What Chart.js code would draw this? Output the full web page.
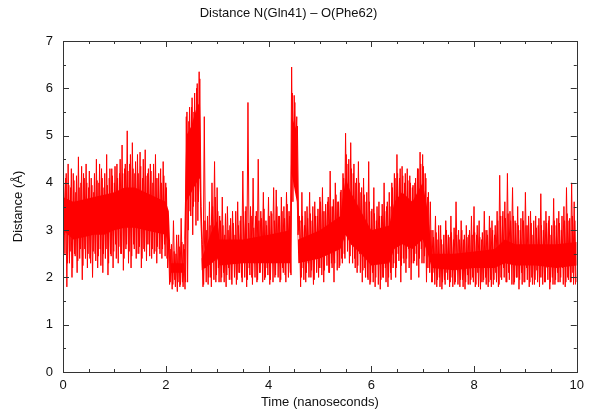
<!DOCTYPE html>
<html>
<head>
<meta charset="utf-8">
<script src="https://cdn.jsdelivr.net/npm/chart.js@4.4.1/dist/chart.umd.min.js"></script>
<style>
  html, body { margin: 0; padding: 0; background: #fff; }
</style>
</head>
<body>
<canvas id="distChart" width="590" height="419"></canvas>
<script>
// sampling step of the trajectory (ns), one high + one low sample per step
const sampleStep = 0.05;

// large excursions, t = 0 .. 9.95 ns
const distHigh = [
  5.0, 4.1, 4.4, 3.9, 4.2, 3.8, 4.55, 4.0, 4.2, 4.4,
  3.9, 4.1, 3.8, 4.5, 4.0, 4.3, 3.9, 4.6, 4.1, 4.3,
  4.0, 4.4, 4.2, 4.8, 4.3, 5.1, 4.4, 4.85, 4.2, 4.6,
  4.65, 4.1, 4.7, 4.2, 4.4, 4.0, 4.6, 4.1, 4.3, 4.45,
  4.0,
  3.0, 2.6, 3.2, 2.5, 2.9, 3.25, 2.7,
  5.4, 5.3, 5.6, 5.5, 6.0, 6.35,
  2.8, 5.4, 3.0, 3.6, 4.0, 4.45, 3.9,
  3.3, 3.7, 2.9, 3.5, 3.1, 3.4, 2.9, 3.6, 3.2, 4.25,
  3.4, 5.7, 3.5, 4.1, 3.3, 4.5, 3.4, 3.8, 3.2, 3.7,
  3.4, 3.9, 3.85, 3.3, 3.7, 3.5, 3.8, 3.4,
  6.45, 5.85, 5.4,
  3.3, 3.8, 3.1, 3.5, 3.8, 3.2, 3.6, 3.3, 3.7, 3.9,
  3.4, 3.6, 4.25, 3.5, 4.0, 3.6, 3.8,
  4.2, 5.05, 4.4, 4.85, 4.2, 4.0, 4.45, 3.8, 4.1, 3.6, 4.45,
  3.4, 3.9, 3.2, 3.6, 3.3, 4.0, 3.5, 3.8,
  4.0, 4.2, 4.6, 4.1, 4.35, 4.0, 4.3, 4.15, 3.9, 4.0,
  4.3, 4.65, 4.6, 4.2, 3.7,
  3.6, 3.0, 3.3, 2.8, 3.1, 2.7, 3.2, 2.9, 3.3, 2.8,
  3.6, 3.0, 3.2, 2.8, 3.1, 2.9, 3.3, 3.5, 2.9, 3.2,
  2.8, 3.4, 3.0, 3.3,
  3.2, 2.9, 3.4, 4.16, 3.3, 3.6, 4.2, 3.4, 3.9, 3.2,
  3.5, 3.0, 3.4, 3.8, 3.1, 3.4, 2.9, 3.3, 3.1, 3.77,
  3.0, 3.4, 3.2, 2.9, 3.67, 3.1, 3.4, 3.0, 3.5, 3.9,
  3.2, 4.0, 3.6
];
const distLow = [
  2.9, 1.8, 2.3, 2.0, 2.5, 2.1, 2.4, 1.95, 2.6, 2.2,
  2.4, 2.0, 2.5, 2.2, 2.6, 2.1, 2.4, 2.05, 2.5, 2.2,
  2.7, 2.3, 2.5, 2.15, 2.6, 2.3, 2.2, 2.7, 2.4, 2.5,
  2.2, 2.6, 2.35, 2.7, 2.4, 2.5, 2.3, 2.6, 2.4, 2.7,
  2.4,
  1.85, 1.75, 1.95, 1.7, 1.8, 1.9, 1.75,
  1.9, 3.4, 2.9, 3.6, 3.2, 3.8,
  1.8, 2.2, 1.85, 2.0, 2.4, 1.9, 2.2,
  1.9, 2.1, 1.8, 2.2, 1.95, 2.3, 1.85, 2.1, 2.0, 2.4,
  1.8, 2.2, 2.0, 2.3, 1.9, 2.1, 2.35, 1.95, 2.2, 1.85,
  2.3, 2.0, 2.4, 1.9, 2.2, 2.05, 2.4, 2.1,
  3.6, 4.6, 2.9,
  1.8, 2.2, 1.9, 2.3, 2.0, 1.85, 2.4, 2.0, 2.2, 1.9,
  2.5, 2.1, 2.3, 1.9, 2.6, 2.2, 2.4,
  2.5, 2.9, 2.3, 2.7, 2.4, 2.1, 2.5, 1.9, 2.2, 2.0, 1.85,
  2.1, 1.8, 2.3, 1.75, 2.0, 2.2, 1.8, 2.1,
  2.2, 2.0, 2.5, 1.9, 2.4, 2.1, 2.6, 1.95, 2.3, 2.5,
  2.0, 2.6, 2.3, 1.9, 2.2,
  1.9, 2.1, 1.8, 2.0, 1.75, 1.95, 2.1, 1.8, 2.0, 1.85,
  2.15, 1.8, 1.95, 1.75, 2.05, 1.85, 2.0, 1.8, 2.1, 1.75,
  1.9, 2.0, 1.8, 1.95,
  1.85, 2.1, 1.8, 2.0, 2.2, 1.9, 2.1, 2.4, 1.85, 2.0,
  1.75, 2.1, 1.9, 2.2, 1.8, 2.0, 1.85, 2.15, 1.8, 2.0,
  1.9, 2.2, 1.75, 2.0, 1.85, 2.1, 1.9, 2.2, 1.8, 2.0,
  1.9, 2.1, 1.85
];

// moderate excursions, sampled in between, t = 0.0125 .. 9.9875 ns
const distMidHigh = [
  4.0, 4.2, 3.95, 4.3, 4.05, 4.15, 3.9, 4.35, 4.1, 4.0,
  4.25, 3.95, 4.2, 4.05, 4.4, 4.1, 4.2, 3.95, 4.3, 4.15,
  4.35, 4.1, 4.5, 4.2, 4.4, 4.25, 4.6, 4.3, 4.45, 4.2,
  4.35, 4.5, 4.15, 4.3, 4.25, 4.4, 4.1, 4.2, 4.0, 4.15,
  3.9,
  2.8, 2.7, 2.55, 2.9, 2.65, 2.75, 2.6,
  5.5, 5.6, 5.8, 5.9, 6.1, 6.2,
  2.7, 3.2, 3.3, 3.1, 3.5, 3.7, 3.4,
  3.2, 3.1, 3.35, 3.0, 3.25, 3.15, 3.4, 3.1, 3.3, 3.2,
  3.5, 3.15, 3.3, 3.05, 3.4, 3.2, 3.25, 3.45, 3.1, 3.3,
  3.35, 3.2, 3.5, 3.3, 3.4, 3.25, 3.55, 3.3,
  5.9, 5.7, 5.2,
  3.2, 3.3, 3.4, 3.25, 3.35, 3.5, 3.3, 3.45, 3.6, 3.4,
  3.55, 3.7, 3.5, 3.65, 3.75, 3.6, 3.85,
  4.1, 4.6, 4.5, 4.3, 4.4, 4.1, 4.0, 3.9, 3.75, 3.8, 3.6,
  3.45, 3.35, 3.5, 3.3, 3.55, 3.4, 3.6, 3.5,
  3.9, 4.1, 4.2, 4.3, 4.15, 4.2, 4.05, 4.0, 3.95, 4.1,
  4.3, 4.4, 4.35, 4.1, 3.8,
  3.0, 2.85, 2.95, 3.1, 2.8, 2.9, 3.0, 2.85, 2.95, 3.05,
  2.9, 2.8, 3.0, 2.9, 2.85, 3.0, 2.9, 2.95, 3.1, 2.85,
  2.95, 3.0, 2.9, 3.05,
  3.0, 3.1, 3.2, 3.3, 3.4, 3.25, 3.35, 3.2, 3.3, 3.15,
  3.1, 3.25, 3.2, 3.1, 3.3, 3.15, 3.2, 3.05, 3.25, 3.1,
  3.2, 3.15, 3.3, 3.1, 3.2, 3.25, 3.15, 3.3, 3.2, 3.35,
  3.25, 3.3, 3.2
];
const distMidLow = [
  2.5, 2.3, 2.55, 2.2, 2.45, 2.35, 2.6, 2.25, 2.4, 2.5,
  2.3, 2.55, 2.35, 2.45, 2.25, 2.5, 2.6, 2.3, 2.45, 2.55,
  2.4, 2.65, 2.5, 2.4, 2.7, 2.55, 2.45, 2.6, 2.5, 2.65,
  2.4, 2.55, 2.7, 2.45, 2.6, 2.55, 2.65, 2.5, 2.6, 2.45,
  2.2,
  1.9, 1.85, 1.8, 1.9, 1.85, 1.8, 1.9,
  3.0, 3.3, 3.5, 3.1, 3.6, 3.5,
  1.85, 1.9, 2.0, 1.8, 1.95, 2.05, 1.9,
  2.0, 1.9, 2.05, 1.95, 1.85, 2.0, 1.95, 2.1, 1.9, 2.0,
  1.95, 2.05, 1.85, 2.0, 1.95, 2.1, 1.9, 2.0, 2.05, 1.95,
  1.9, 2.05, 2.0, 1.95, 2.1, 1.9, 2.0, 2.05,
  4.3, 3.8, 3.0,
  2.0, 1.95, 2.1, 2.0, 2.15, 1.95, 2.1, 2.2, 2.05, 2.15,
  2.25, 2.1, 2.2, 2.3, 2.15, 2.25, 2.3,
  2.4, 2.55, 2.45, 2.3, 2.2, 2.25, 2.1, 2.15, 2.0, 1.95, 1.9,
  1.9, 2.0, 1.85, 1.95, 2.0, 1.9, 2.0, 1.95,
  2.3, 2.2, 2.35, 2.25, 2.3, 2.4, 2.2, 2.3, 2.35, 2.25,
  2.4, 2.3, 2.45, 2.2, 2.1,
  1.9, 1.85, 1.95, 1.8, 1.9, 1.85, 1.95, 1.9, 1.8, 1.9,
  1.85, 1.95, 1.8, 1.9, 1.85, 1.95, 1.9, 1.85, 1.8, 1.9,
  1.95, 1.85, 1.9, 1.8,
  1.95, 1.9, 1.85, 1.95, 2.0, 1.9, 1.95, 1.85, 1.9, 2.0,
  1.95, 1.85, 1.9, 1.95, 1.9, 1.85, 1.95, 1.9, 2.0, 1.85,
  1.9, 1.95, 1.9, 1.85, 1.95, 1.9, 2.0, 1.85, 1.9, 1.95,
  1.9, 1.85, 1.9
];

// dense core of the fluctuation (where the trace is solid red)
const coreTime = [
  0.0, 0.2, 0.4, 0.6, 0.8, 1.0, 1.2, 1.4, 1.6, 1.8, 2.0, 2.06,
  2.1, 2.35, 2.4, 2.5, 2.6, 2.66, 2.7, 2.9, 3.0, 3.05, 3.5, 4.0,
  4.42, 4.45, 4.55, 4.58, 5.0, 5.4, 5.5, 5.6, 5.8, 6.0, 6.35, 6.45,
  6.6, 6.8, 7.0, 7.1, 7.18, 7.6, 8.0, 8.4, 8.6, 8.8, 9.2, 9.6, 10.0
];
const coreTop = [
  3.7, 3.6, 3.65, 3.7, 3.75, 3.8, 3.9, 3.9, 3.8, 3.7, 3.6, 3.4,
  2.3, 2.3, 5.0, 5.2, 5.6, 5.7, 2.4, 3.0, 3.2, 2.8, 2.8, 2.9,
  3.0, 5.4, 5.1, 2.8, 3.0, 3.3, 4.1, 3.8, 3.4, 3.0, 3.1, 3.6,
  3.8, 3.6, 4.0, 3.4, 2.5, 2.5, 2.55, 2.6, 2.8, 2.7, 2.7, 2.7, 2.75
];
const coreBottom = [
  3.0, 2.8, 2.85, 2.9, 2.9, 3.0, 3.05, 3.05, 3.0, 2.95, 2.9, 2.7,
  2.1, 2.1, 3.6, 3.8, 4.0, 4.1, 2.15, 2.3, 2.4, 2.25, 2.3, 2.3,
  2.3, 4.2, 3.6, 2.3, 2.4, 2.6, 2.9, 2.7, 2.5, 2.25, 2.3, 2.6,
  2.7, 2.6, 2.8, 2.5, 2.2, 2.15, 2.2, 2.2, 2.3, 2.25, 2.25, 2.2, 2.25
];

const xTickValues = [0, 2, 4, 6, 8, 10];
const yTickValues = [0, 1, 2, 3, 4, 5, 6, 7];
const xMinorStep = 0.5;
const yMinorStep = 0.5;

// zigzag traces: high then low sample inside every step
const bigPts = [];
distHigh.forEach((hi, i) => {
  const t = i * sampleStep;
  bigPts.push({ x: t, y: hi });
  bigPts.push({ x: t + sampleStep / 2, y: distLow[i] });
});
const midPts = [];
distMidHigh.forEach((hi, i) => {
  const t = i * sampleStep + sampleStep / 4;
  midPts.push({ x: t, y: hi });
  midPts.push({ x: t + sampleStep / 2, y: distMidLow[i] });
});
const coreTopPts = coreTime.map((t, i) => ({ x: t, y: coreTop[i] }));
const coreBottomPts = coreTime.map((t, i) => ({ x: t, y: coreBottom[i] }));

const labelFont = { family: "'Liberation Sans', Arial, sans-serif", size: 13 };

// box around plot with inward ticks on all four sides
const framePlugin = {
  id: 'frame',
  afterDatasetsDraw(chart) {
    const { ctx, chartArea: a, scales: { x, y } } = chart;
    ctx.save();
    ctx.strokeStyle = '#333';
    ctx.lineWidth = 1;
    ctx.strokeRect(Math.round(a.left) + 0.5, Math.round(a.top) + 0.5,
      Math.round(a.right - a.left), Math.round(a.bottom - a.top));
    ctx.beginPath();
    for (let v = x.min; v <= x.max + 1e-9; v += xMinorStep) {
      const px = Math.round(x.getPixelForValue(v)) + 0.5;
      const len = xTickValues.includes(Math.round(v * 100) / 100) ? 6 : 3;
      ctx.moveTo(px, a.bottom); ctx.lineTo(px, a.bottom - len);
      ctx.moveTo(px, a.top); ctx.lineTo(px, a.top + len);
    }
    for (let v = y.min; v <= y.max + 1e-9; v += yMinorStep) {
      const py = Math.round(y.getPixelForValue(v)) + 0.5;
      const len = yTickValues.includes(Math.round(v * 100) / 100) ? 6 : 3;
      ctx.moveTo(a.left, py); ctx.lineTo(a.left + len, py);
      ctx.moveTo(a.right, py); ctx.lineTo(a.right - len, py);
    }
    ctx.stroke();
    ctx.restore();
  }
};

const traceStyle = { borderColor: '#ff0000', borderWidth: 1, pointRadius: 0, tension: 0, fill: false };

new Chart(document.getElementById('distChart').getContext('2d'), {
  type: 'line',
  data: {
    datasets: [
      { data: bigPts, ...traceStyle },
      { data: midPts, ...traceStyle },
      {
        data: coreBottomPts,
        borderWidth: 0,
        borderColor: 'rgba(0,0,0,0)',
        pointRadius: 0,
        tension: 0,
        fill: false
      },
      {
        data: coreTopPts,
        borderWidth: 0,
        borderColor: 'rgba(0,0,0,0)',
        backgroundColor: '#ff0000',
        pointRadius: 0,
        tension: 0,
        fill: '-1'
      }
    ]
  },
  options: {
    responsive: false,
    animation: false,
    devicePixelRatio: 1,
    layout: { padding: { right: 13, left: 0, bottom: 0 } },
    plugins: {
      legend: { display: false },
      tooltip: { enabled: false },
      title: {
        display: true,
        text: 'Distance N(Gln41) \u2013 O(Phe62)',
        color: '#111',
        font: { ...labelFont, weight: 'normal' },
        padding: { top: 6, bottom: 19.4 }
      }
    },
    scales: {
      x: {
        type: 'linear',
        min: 0,
        max: 10,
        afterFit: (s) => { s.height = 47; },
        afterBuildTicks: (s) => { s.ticks = xTickValues.map(v => ({ value: v })); },
        grid: { display: false, drawTicks: false },
        border: { display: false },
        ticks: { color: '#111', font: labelFont, padding: 6, maxRotation: 0 },
        title: { display: true, text: 'Time (nanoseconds)', color: '#111', font: labelFont, padding: { top: 0, bottom: 9 } }
      },
      y: {
        min: 0,
        max: 7,
        afterFit: (s) => { s.width = 63; },
        afterBuildTicks: (s) => { s.ticks = yTickValues.map(v => ({ value: v })); },
        grid: { display: false, drawTicks: false },
        border: { display: false },
        ticks: { color: '#111', font: labelFont, padding: 10 },
        title: { display: true, text: 'Distance (\u00c5)', color: '#111', font: labelFont, padding: { top: 11, bottom: 0 } }
      }
    }
  },
  plugins: [framePlugin]
});
</script>
</body>
</html>
